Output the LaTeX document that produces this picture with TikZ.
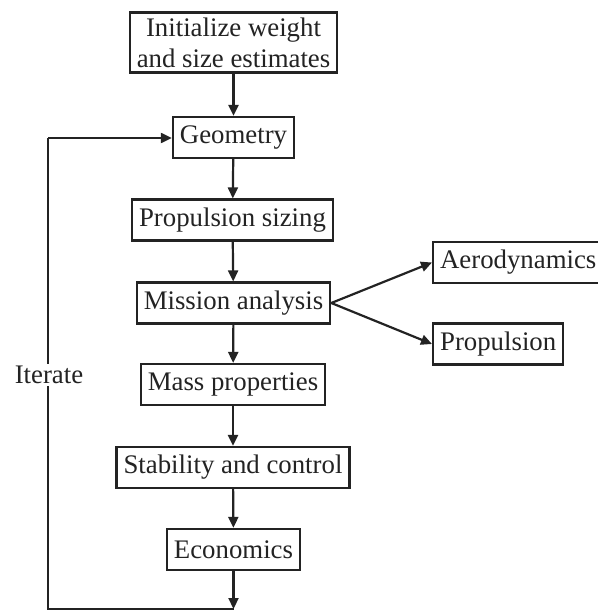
\documentclass[tikz,border=0pt]{standalone}
\usepackage{fontspec}
\setmainfont{Liberation Serif}
\usepackage{tikz}
\usetikzlibrary{positioning,arrows.meta}
\definecolor{dsInk}{RGB}{35,35,35}
\tikzset{
    base/.style={font=\fontsize{26.8}{31}\selectfont, align=center, text=dsInk},
    stage/.style={base, rectangle, draw=dsInk, line width=2.2pt, fill=white,
                  inner xsep=7pt, inner ysep=5pt, minimum height=41pt},
    flow/.style={-{Triangle[length=11pt,width=10pt]}, line width=2.2pt, color=dsInk},
    loopline/.style={line width=2.2pt, color=dsInk},
    label/.style={base, fill=white, inner sep=2pt}
}

\begin{document}
\begin{tikzpicture}[x=1pt, y=-1pt]
  \useasboundingbox (0,0) rectangle (597,612);

  % Sizing loop stages
  \node[stage] (init) at (233.5,42.5) {Initialize weight\\and size estimates};
  \node[stage] (geo) at (233.5,137.5) {Geometry};
  \node[stage] (propsize) at (232.5,220) {Propulsion sizing};
  \node[stage] (mission) at (233.5,303) {Mission analysis};
  \node[stage] (mass) at (233,384.5) {Mass properties};
  \node[stage] (stab) at (233,467.5) {Stability and control};
  \node[stage] (econ) at (233.5,549.5) {Economics};

  % Analyses called by the mission
  \node[stage, anchor=west] (aero) at (432,262.5) {Aerodynamics};
  \node[stage, anchor=west] (prop) at (432,344) {Propulsion};

  % Return path
  \coordinate (loopend) at (233.5,609);
  \coordinate (loopbl) at (48,609);
  \coordinate (looptl) at (48,138);

  % Main flow
  \draw[flow] (init) -- (geo);
  \draw[flow] (geo) -- (propsize);
  \draw[flow] (propsize) -- (mission);
  \draw[flow] (mission) -- (mass);
  \draw[flow] (mass) -- (stab);
  \draw[flow] (stab) -- (econ);
  \draw[flow] (econ) -- (loopend);

  % Branches
  \draw[flow] (mission.east) -- (aero.west);
  \draw[flow] (mission.east) -- (prop.west);

  % Iteration
  \draw[loopline] (loopend) -- (loopbl) -- (looptl);
  \draw[flow] (looptl) -- (geo.west |- looptl);
  \node[label] (iter) at (49,375) {Iterate};
\end{tikzpicture}
\end{document}
